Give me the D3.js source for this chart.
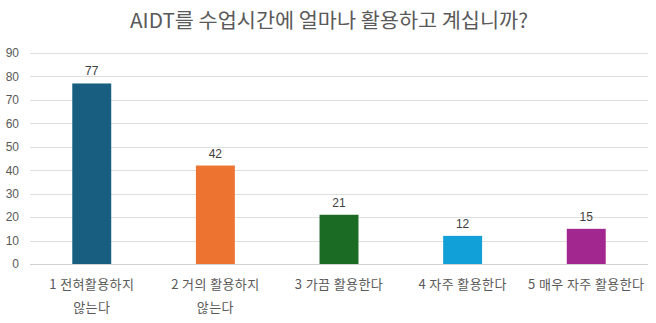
<!DOCTYPE html>
<html>
<head>
<meta charset="utf-8">
<script src="https://cdn.jsdelivr.net/npm/d3@7"></script>
<style>
  body { margin: 0; background: #fff; }
  svg { display: block; font-family: "Noto Sans CJK KR", "Noto Sans", sans-serif; }
</style>
</head>
<body>
<svg id="chart"></svg>
<script>
const title = 'AIDT를 수업시간에 얼마나 활용하고 계십니까?';
const categories = [
  ['1 전혀활용하지', '않는다'],
  ['2 거의 활용하지', '않는다'],
  ['3 가끔 활용한다'],
  ['4 자주 활용한다'],
  ['5 매우 자주 활용한다'],
];
const values = [77, 42, 21, 12, 15];
const colors = ['#175e80', '#ed7331', '#1c6b25', '#12a0d8', '#a2288f'];
const yTicks = [0, 10, 20, 30, 40, 50, 60, 70, 80, 90];

const width = 656;
const height = 323;
const margin = {top: 53, right: 8, bottom: 59, left: 30};

const svg = d3.select('#chart')
    .attr('width', width)
    .attr('height', height);

const x = d3.scaleBand()
    .domain(d3.range(values.length))
    .range([margin.left, width - margin.right])
    .paddingInner(0.685)
    .paddingOuter(0.342);

const y = d3.scaleLinear()
    .domain([0, 90])
    .range([height - margin.bottom, margin.top]);

// title
svg.append('text')
    .attr('x', 329)
    .attr('y', 28)
    .attr('text-anchor', 'middle')
    .attr('fill', '#595959')
    .style('font-size', '20px')
    .attr('textLength', 398)
    .attr('lengthAdjust', 'spacingAndGlyphs')
    .text(title);

// gridlines
svg.append('g')
    .selectAll('line')
    .data(yTicks)
    .join('line')
    .attr('x1', margin.left)
    .attr('x2', width - margin.right)
    .attr('y1', (d) => Math.round(y(d)) + 0.5)
    .attr('y2', (d) => Math.round(y(d)) + 0.5)
    .attr('stroke', (d) => d === 0 ? '#d0d0d0' : '#dedede')
    .attr('stroke-width', 1);

// y axis labels
const yAxis = d3.axisLeft(y).tickValues(yTicks).tickSize(0).tickPadding(0);
svg.append('g')
    .attr('transform', 'translate(19,0)')
    .call(yAxis)
    .call((g) => g.select('.domain').remove())
    .call((g) => g.selectAll('text')
        .attr('fill', '#595959')
        .attr('text-anchor', 'end')
        .style('font-family', 'Arial, "Liberation Sans", sans-serif')
        .style('font-size', '12px'));

// bars
svg.append('g')
    .selectAll('rect')
    .data(values)
    .join('rect')
    .attr('x', (d, i) => x(i))
    .attr('y', (d) => y(d))
    .attr('width', x.bandwidth())
    .attr('height', (d) => y(0) - y(d))
    .attr('fill', (d, i) => colors[i]);

// value labels
svg.append('g')
    .selectAll('text')
    .data(values)
    .join('text')
    .attr('x', (d, i) => x(i) + x.bandwidth() / 2)
    .attr('y', (d) => y(d) - 8)
    .attr('text-anchor', 'middle')
    .attr('fill', '#404040')
    .style('font-family', 'Arial, "Liberation Sans", sans-serif')
    .style('font-size', '12px')
    .text((d) => d);

// category labels
const cat = svg.append('g')
    .selectAll('text')
    .data(categories)
    .join('text')
    .attr('x', (d, i) => x(i) + x.bandwidth() / 2)
    .attr('y', 289)
    .attr('text-anchor', 'middle')
    .attr('fill', '#595959')
    .style('font-size', '13px')
    .style('letter-spacing', '0.4px');

cat.selectAll('tspan')
    .data((d) => d)
    .join('tspan')
    .attr('x', function() {
      return d3.select(this.parentNode).attr('x');
    })
    .attr('dy', (d, i) => i === 0 ? 0 : 23)
    .text((d) => d);
</script>
</body>
</html>
